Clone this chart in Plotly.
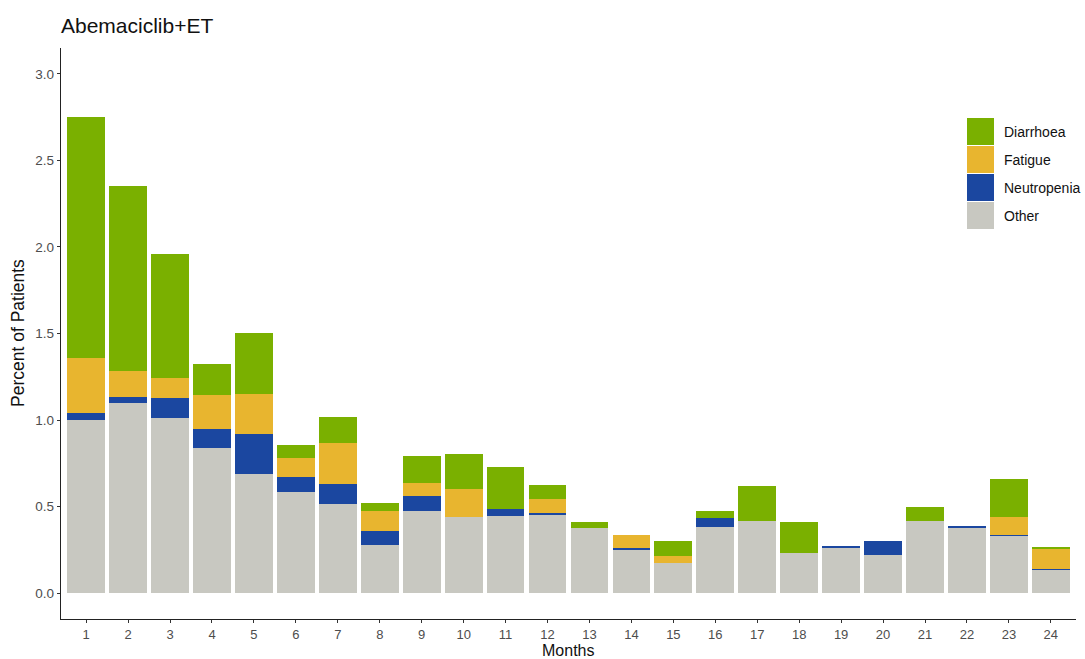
import plotly.graph_objects as go

# Monthly share of patients with each adverse event (stacked)
months = list(range(1, 25))
other = [1.00, 1.10, 1.01, 0.84, 0.69, 0.585, 0.513, 0.278, 0.475, 0.438, 0.448, 0.456,
         0.375, 0.253, 0.174, 0.379, 0.416, 0.234, 0.266, 0.220, 0.416, 0.376, 0.333, 0.134]
neutropenia = [0.04, 0.035, 0.115, 0.11, 0.23, 0.083, 0.12, 0.078, 0.084, 0.0, 0.036, 0.005,
               0.0, 0.005, 0.0, 0.052, 0.0, 0.0, 0.008, 0.08, 0.0, 0.007, 0.005, 0.005]
fatigue = [0.32, 0.15, 0.115, 0.195, 0.233, 0.11, 0.233, 0.12, 0.077, 0.163, 0.0, 0.08,
           0.0, 0.075, 0.042, 0.0, 0.0, 0.0, 0.0, 0.0, 0.0, 0.0, 0.10, 0.118]
diarrhoea = [1.39, 1.07, 0.72, 0.18, 0.35, 0.078, 0.153, 0.042, 0.157, 0.20, 0.246, 0.082,
             0.037, 0.0, 0.086, 0.044, 0.205, 0.178, 0.0, 0.0, 0.082, 0.0, 0.219, 0.01]

series = [
    ("Other", other, "#C8C8C1"),
    ("Neutropenia", neutropenia, "#1B47A0"),
    ("Fatigue", fatigue, "#E8B52F"),
    ("Diarrhoea", diarrhoea, "#7AB000"),
]

FONT = "Liberation Sans, Arial, sans-serif"

fig = go.Figure()
for name, vals, col in series:
    fig.add_trace(go.Bar(
        x=months, y=vals, name=name, width=0.9,
        marker=dict(color=col, line=dict(width=0)),
        showlegend=False,
    ))

W, H = 1085, 659
ml, mr, mt, mb = 61, 9, 48, 40
pw, ph = W - ml - mr, H - mt - mb

def px_x(x):
    return (x - ml) / pw

def px_y(y):
    return 1 - (y - mt) / ph

# Legend drawn as keys + labels in paper space (top-down order)
legend_items = [("Diarrhoea", "#7AB000"), ("Fatigue", "#E8B52F"),
                ("Neutropenia", "#1B47A0"), ("Other", "#C8C8C1")]
shapes = []
annotations = []
for i, (lab, col) in enumerate(legend_items):
    y0 = 118 + i * 28
    shapes.append(dict(type="rect", xref="paper", yref="paper",
                       x0=px_x(967), x1=px_x(994), y0=px_y(y0 + 27), y1=px_y(y0),
                       fillcolor=col, line=dict(width=0)))
    annotations.append(dict(xref="paper", yref="paper", x=px_x(1002), y=px_y(y0 + 13.5),
                            text=lab, showarrow=False, xanchor="left", yanchor="middle",
                            font=dict(family=FONT, size=14, color="#111111")))

# Axis titles
annotations.append(dict(xref="paper", yref="paper", x=px_x(568), y=px_y(650.5),
                        text="Months", showarrow=False, xanchor="center", yanchor="middle",
                        font=dict(family=FONT, size=16, color="#111111")))
annotations.append(dict(xref="paper", yref="paper", x=px_x(18), y=px_y(333),
                        text="Percent of Patients", showarrow=False, textangle=-90,
                        xanchor="center", yanchor="middle",
                        font=dict(family=FONT, size=17.5, color="#111111")))

fig.update_layout(
    barmode="stack",
    width=W, height=H,
    margin=dict(l=ml, r=mr, t=mt, b=mb, autoexpand=False),
    paper_bgcolor="white", plot_bgcolor="white",
    font=dict(family=FONT, color="#111111"),
    title=dict(text="Abemaciclib+ET", x=61 / W, xanchor="left",
               y=1 - 26 / H, yanchor="middle", font=dict(family=FONT, size=21, color="#111111")),
    shapes=shapes,
    annotations=annotations,
    xaxis=dict(
        range=[0.4, 24.6], tickmode="array", tickvals=months,
        ticktext=[str(m) for m in months],
        showline=True, linecolor="#222222", linewidth=1.4,
        ticks="outside", ticklen=3, tickcolor="#333333", tickwidth=1,
        showgrid=False, zeroline=False, automargin=False,
        tickfont=dict(family=FONT, size=13, color="#4d4d4d"),
    ),
    yaxis=dict(
        range=[-0.15, 3.15], tickmode="array",
        tickvals=[0, 0.5, 1.0, 1.5, 2.0, 2.5, 3.0],
        ticktext=["0.0", "0.5", "1.0", "1.5", "2.0", "2.5", "3.0"],
        showline=True, linecolor="#222222", linewidth=1.4,
        ticks="outside", ticklen=3, tickcolor="#333333", tickwidth=1,
        showgrid=False, zeroline=False, automargin=False,
        tickfont=dict(family=FONT, size=13.5, color="#4d4d4d"),
    ),
)

fig.write_html("out.html")
